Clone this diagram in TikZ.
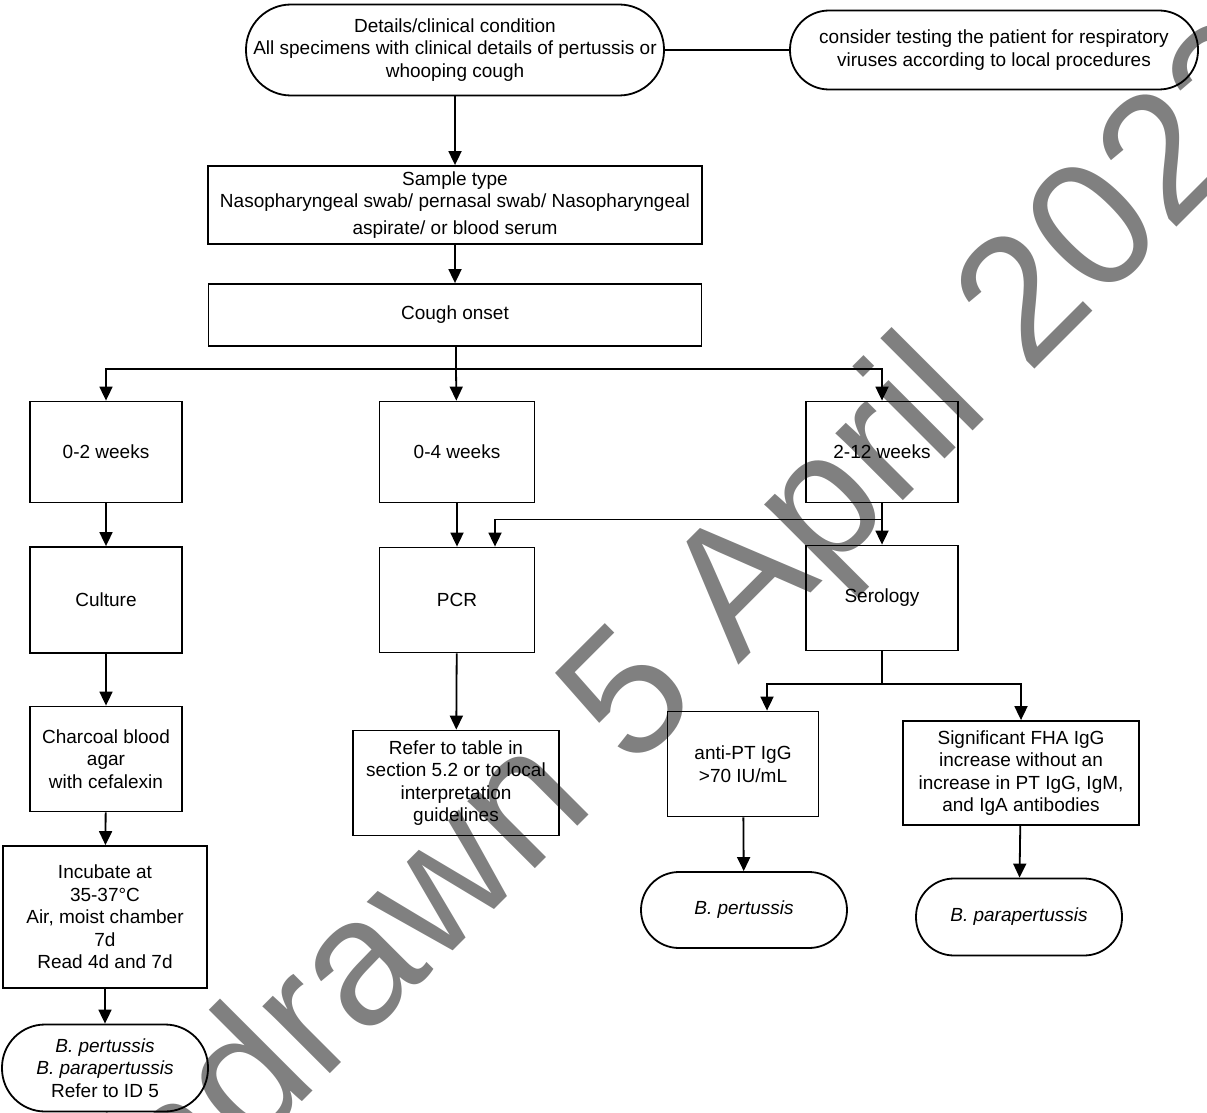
\documentclass[tikz,border=0pt]{standalone}
\usepackage{fontspec}
\setmainfont{Liberation Sans}
\usetikzlibrary{arrows.meta,calc}
\definecolor{wm}{RGB}{128,128,128}
\begin{document}
\begin{tikzpicture}[x=1pt,y=-1pt,
  every node/.style={font=\fontsize{19}{22.5}\selectfont, align=center, inner sep=0pt},
  box/.style={draw, line width=1.8pt, minimum width=#1},
  term/.style={draw, line width=1.8pt, minimum width=#1},
  ln/.style={line width=1.8pt},
  arr/.style={line width=1.8pt, -{Triangle[width=13pt,length=14pt]}}]
\useasboundingbox (0,0) rectangle (1207,1113);
% watermark
\begin{scope}
\clip (0,0) rectangle (1207,1113);
\node[rotate=45, anchor=base west, font=\fontsize{180}{180}\selectfont, text=wm] (wmk) at (-4,1408) {Withdrawn 5 April 2023};
\end{scope}
% nodes
\node[term=418pt, minimum height=91pt, rounded corners=45pt] (top) at (455,50) {Details/clinical condition\\All specimens with clinical details of pertussis or\\whooping cough};
\node[term=408pt, minimum height=79pt, rounded corners=39pt] (right) at (994,50) {consider testing the patient for respiratory\\viruses according to local procedures};
\node[box=494pt, minimum height=78pt] (sample) at (455,205) {Sample type\\Nasopharyngeal swab/ pernasal swab/ Nasopharyngeal\\[4pt]aspirate/ or blood serum};
\node[box=493pt, minimum height=62pt] (cough) at (455,315) {Cough onset};
\node[box=152pt, minimum height=101pt] (w02) at (106,452) {0-2 weeks};
\node[box=155pt, minimum height=101pt] (w04) at (457,452) {0-4 weeks};
\node[box=152pt, minimum height=101pt] (w212) at (882,452) {2-12 weeks};
\node[box=152pt, minimum height=106pt] (culture) at (106,600) {Culture};
\node[box=155pt, minimum height=105pt] (pcr) at (457,600) {PCR};
\node[box=152pt, minimum height=105pt] (sero) at (882,598) {Serology};
\node[box=152pt, minimum height=105pt] (charcoal) at (106,759) {Charcoal blood\\agar\\with cefalexin};
\node[box=206pt, minimum height=105pt] (refer) at (456,783) {Refer to table in\\section 5.2 or to local\\interpretation\\guidelines};
\node[box=151pt, minimum height=105pt] (antipt) at (743,764) {anti-PT IgG\\>70 IU/mL};
\node[box=236pt, minimum height=104pt] (sig) at (1021,773) {Significant FHA IgG\\increase without an\\increase in PT IgG, IgM,\\and IgA antibodies};
\node[term=206pt, minimum height=76pt, rounded corners=38pt] (bpert) at (744,910) {\textit{B. pertussis}};
\node[term=206pt, minimum height=77pt, rounded corners=38pt] (bpara) at (1019,917) {\textit{B. parapertussis}};
\node[box=204pt, minimum height=142pt] (incub) at (105,917) {Incubate at\\35-37°C\\Air, moist chamber\\7d\\Read 4d and 7d};
\node[term=206pt, minimum height=87pt, rounded corners=43pt] (fin) at (105,1068) {\textit{B. pertussis}\\\textit{B. parapertussis}\\Refer to ID 5};
% connectors
\coordinate (j1) at (456,369);
\coordinate (j2) at (882,684);
\draw[ln] (top) -- (right);
\draw[arr] (top) -- (sample);
\draw[arr] (sample) -- (cough);
\draw[ln] (cough.south -| j1) -- (j1);
\draw[arr] (j1) -| (w02);
\draw[arr] (j1) -- (w04);
\draw[arr] (j1) -| (w212);
\draw[arr] (w02) -- (culture);
\draw[arr] (w04) -- (pcr);
\draw[arr] (w212.south) -- ++(0,16) -| ([xshift=38pt]pcr.north);
\draw[arr] (w212) -- (sero);
\draw[arr] (culture) -- (charcoal);
\draw[arr] (charcoal) -- (incub);
\draw[arr] (incub) -- (fin);
\draw[arr] (pcr) -- (refer);
\draw[ln] (sero) -- (j2);
\draw[arr] (j2) -| ([xshift=24pt]antipt.north);
\draw[arr] (j2) -| (sig);
\draw[arr] (antipt) -- (bpert);
\draw[arr] (sig) -- (bpara);
\end{tikzpicture}
\end{document}
